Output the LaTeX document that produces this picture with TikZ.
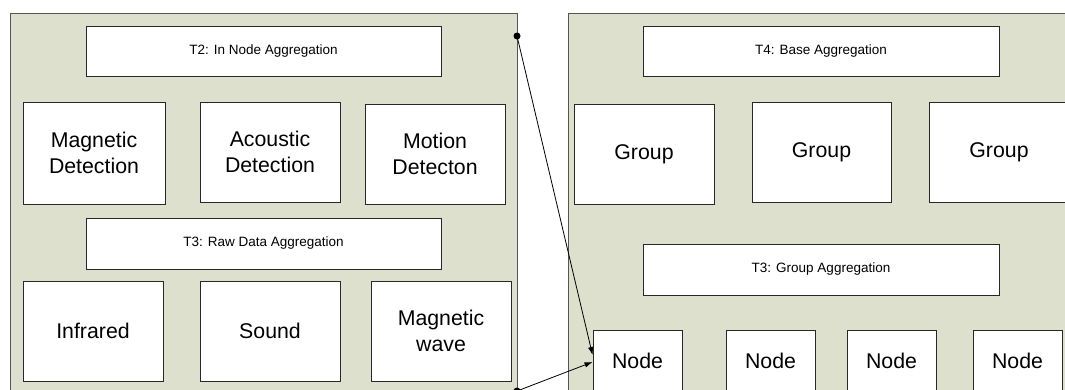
\documentclass[tikz,border=0pt]{standalone}
\usepackage{fontspec}
\setmainfont{Liberation Sans}
\usetikzlibrary{arrows.meta}
\definecolor{panelfill}{RGB}{221,224,204}
\definecolor{panelline}{RGB}{85,85,85}
\definecolor{boxline}{RGB}{40,40,40}
\tikzset{
  panel/.style={draw=panelline, fill=panelfill, line width=0.9pt, anchor=north west, inner sep=0pt},
  box/.style={draw=boxline, fill=white, line width=0.9pt, inner sep=0pt, align=center,
    font=\fontsize{21.3}{25.7}\selectfont},
  tier/.style={box, font=\fontsize{13.5}{16}\selectfont},
  sensorbox/.style={box, minimum width=140pt, minimum height=100pt},
  nodebox/.style={box, minimum width=89pt, minimum height=62pt},
  tierbox/.style={tier, minimum width=356pt, minimum height=50pt},
  link/.style={line width=0.8pt, -{Latex[length=8pt,width=5.5pt]}},
  dot/.style={circle, fill=black, inner sep=0pt, minimum size=7pt}
}
\begin{document}
\begin{tikzpicture}[x=1pt,y=-1pt]
\useasboundingbox (0,0) rectangle (1065,389);
\clip (0,0) rectangle (1065,389);
\fill[white] (0,0) rectangle (1065,389);

% sensor node panel
\node[panel, minimum width=507pt, minimum height=400pt] (sensor) at (10,13) {};
\node[tierbox, minimum width=355pt] (t2) at (263.5,51) {T2: In Node Aggregation};
\node[sensorbox, minimum width=142pt, minimum height=102pt] (magdet) at (94,153) {Magnetic\\Detection};
\node[sensorbox] (acoustic) at (270,152) {Acoustic\\Detection};
\node[sensorbox] (motion) at (435,154) {Motion\\Detecton};
\node[tierbox, minimum width=355pt, minimum height=51pt] (t3raw) at (263.5,243.5) {T3: Raw Data Aggregation};
\node[sensorbox] (infrared) at (93,331) {Infrared};
\node[sensorbox] (sound) at (270,331) {Sound};
\node[sensorbox] (magwave) at (441,331) {Magnetic\\wave};

% base station panel
\node[panel, minimum width=520pt, minimum height=400pt] (base) at (568,13) {};
\node[tierbox] (t4) at (821,51) {T4: Base Aggregation};
\node[sensorbox] (group1) at (644,154) {Group};
\node[sensorbox, minimum width=139pt] (group2) at (821.5,152) {Group};
\node[sensorbox] (group3) at (999,152) {Group};
\node[tierbox, minimum height=51pt] (t3grp) at (821,269.5) {T3: Group Aggregation};
\node[nodebox] (node1) at (637.5,361) {Node};
\node[nodebox] (node2) at (770.5,361) {Node};
\node[nodebox] (node3) at (891.5,361) {Node};
\node[nodebox] (node4) at (1017.5,361) {Node};

% links from the sensor panel to a node
\node[dot] (src1) at (517,36) {};
\node[dot] (src2) at (517,391) {};
\draw[link] (src1.center) -- ([yshift=6pt]node1.west);
\draw[link] (src2.center) -- ([yshift=-1pt]node1.west);
\end{tikzpicture}
\end{document}
